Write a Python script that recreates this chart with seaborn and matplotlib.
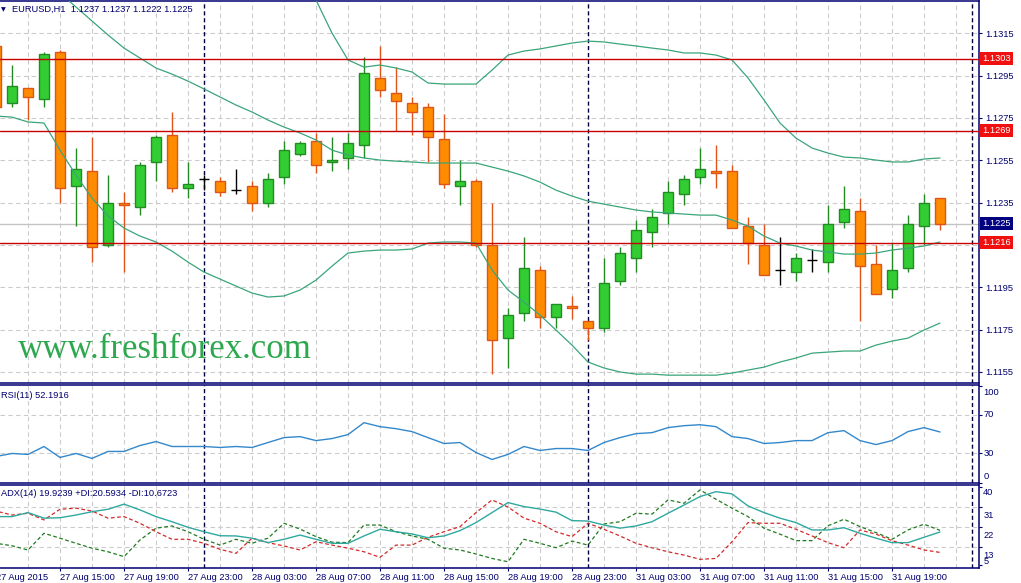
import numpy as np
import matplotlib
matplotlib.use("Agg")
import matplotlib.pyplot as plt
import matplotlib.transforms as mtransforms
import seaborn as sns

sns.set_theme(style="white")
plt.rcParams['font.family'] = ['Liberation Sans', 'DejaVu Sans']
plt.rcParams['axes.unicode_minus'] = False

# ---------- data (EURUSD H1, 27 Aug 11:00 .. 31 Aug 22:00) ----------
open_ = [1.1309, 1.1282, 1.1289, 1.1284, 1.1306, 1.1243, 1.1250, 1.1215, 1.1235, 1.1233,
         1.1254, 1.1267, 1.1242, 1.1246, 1.1245, 1.1241, 1.1243, 1.1235, 1.1247, 1.1258,
         1.1264, 1.1254, 1.1256, 1.1262, 1.1294, 1.1287, 1.1282, 1.1280, 1.1265, 1.1243,
         1.1245, 1.1215, 1.1171, 1.1183, 1.1203, 1.1181, 1.1186, 1.1179, 1.1176, 1.1198,
         1.1209, 1.1221, 1.1230, 1.1239, 1.1247, 1.1250, 1.1250, 1.1224, 1.1215, 1.1203,
         1.1202, 1.1208, 1.1207, 1.1226, 1.1231, 1.1206, 1.1194, 1.1204, 1.1224, 1.1237]
high = [1.1312, 1.1300, 1.1289, 1.1306, 1.1307, 1.1261, 1.1266, 1.1248, 1.1240, 1.1254,
        1.1267, 1.1278, 1.1254, 1.1248, 1.1247, 1.1251, 1.1245, 1.1249, 1.1264, 1.1264,
        1.1268, 1.1266, 1.1268, 1.1304, 1.1309, 1.1299, 1.1285, 1.1282, 1.1277, 1.1255,
        1.1246, 1.1235, 1.1185, 1.1219, 1.1205, 1.1187, 1.1191, 1.1179, 1.1209, 1.1214,
        1.1227, 1.1232, 1.1245, 1.1248, 1.1261, 1.1262, 1.1253, 1.1228, 1.1225, 1.1219,
        1.1211, 1.1213, 1.1234, 1.1243, 1.1237, 1.1215, 1.1216, 1.1229, 1.1239, 1.1237]
low = [1.1279, 1.1280, 1.1274, 1.1280, 1.1235, 1.1224, 1.1207, 1.1214, 1.1202, 1.1229,
       1.1245, 1.1240, 1.1237, 1.1241, 1.1238, 1.1239, 1.1231, 1.1233, 1.1244, 1.1257,
       1.1249, 1.1250, 1.1251, 1.1256, 1.1285, 1.1269, 1.1267, 1.1254, 1.1242, 1.1234,
       1.1214, 1.1154, 1.1157, 1.1179, 1.1176, 1.1176, 1.1180, 1.1170, 1.1174, 1.1196,
       1.1202, 1.1214, 1.1225, 1.1234, 1.1244, 1.1242, 1.1223, 1.1206, 1.1201, 1.1196,
       1.1198, 1.1202, 1.1202, 1.1223, 1.1179, 1.1192, 1.1190, 1.1202, 1.1215, 1.1222]
close = [1.1280, 1.1290, 1.1285, 1.1305, 1.1242, 1.1251, 1.1214, 1.1235, 1.1234, 1.1253,
         1.1266, 1.1242, 1.1244, 1.1246, 1.1240, 1.1241, 1.1235, 1.1246, 1.1260, 1.1263,
         1.1253, 1.1255, 1.1263, 1.1296, 1.1288, 1.1283, 1.1278, 1.1266, 1.1244, 1.1245,
         1.1215, 1.1170, 1.1182, 1.1204, 1.1181, 1.1187, 1.1185, 1.1176, 1.1197, 1.1211,
         1.1222, 1.1228, 1.1240, 1.1246, 1.1251, 1.1249, 1.1223, 1.1216, 1.1201, 1.1203,
         1.1209, 1.1208, 1.1225, 1.1232, 1.1205, 1.1192, 1.1203, 1.1225, 1.1235, 1.1225]

bb_upper = [1.14460, 1.14332, 1.14223, 1.14086, 1.14082, 1.14068, 1.14044, 1.13997, 1.13931, 1.13874,
            1.13808, 1.13794, 1.13779, 1.13751, 1.13709, 1.13666, 1.13633, 1.13576, 1.13505, 1.13420,
            1.13307, 1.13151, 1.13024, 1.12990, 1.13000, 1.12986, 1.12967, 1.12915, 1.12910, 1.12910,
            1.12910, 1.12976, 1.13047, 1.13066, 1.13076, 1.13090, 1.13104, 1.13113, 1.13109, 1.13099,
            1.13090, 1.13080, 1.13071, 1.13057, 1.13057, 1.13047, 1.13024, 1.12939, 1.12835, 1.12726,
            1.12655, 1.12608, 1.12584, 1.12565, 1.12561, 1.12551, 1.12542, 1.12542, 1.12556, 1.12561]
bb_middle = [1.13609, 1.13543, 1.13477, 1.13406, 1.13340, 1.13274, 1.13208, 1.13142, 1.13080, 1.13033,
             1.12986, 1.12957, 1.12924, 1.12887, 1.12849, 1.12811, 1.12778, 1.12740, 1.12707, 1.12679,
             1.12646, 1.12598, 1.12575, 1.12561, 1.12551, 1.12546, 1.12542, 1.12537, 1.12537, 1.12537,
             1.12537, 1.12518, 1.12499, 1.12476, 1.12447, 1.12409, 1.12381, 1.12357, 1.12343, 1.12329,
             1.12315, 1.12306, 1.12301, 1.12296, 1.12291, 1.12291, 1.12268, 1.12239, 1.12192, 1.12159,
             1.12145, 1.12126, 1.12117, 1.12107, 1.12107, 1.12112, 1.12126, 1.12135, 1.12145, 1.12164]
bb_lower = [1.12759, 1.12754, 1.12731, 1.12726, 1.12598, 1.12480, 1.12372, 1.12287, 1.12230, 1.12192,
            1.12164, 1.12121, 1.12069, 1.12022, 1.11989, 1.11956, 1.11923, 1.11904, 1.11909, 1.11937,
            1.11984, 1.12050, 1.12112, 1.12121, 1.12126, 1.12126, 1.12131, 1.12159, 1.12164, 1.12164,
            1.12159, 1.12032, 1.11937, 1.11880, 1.11819, 1.11748, 1.11677, 1.11597, 1.11569, 1.11550,
            1.11540, 1.11540, 1.11535, 1.11535, 1.11535, 1.11535, 1.11545, 1.11559, 1.11573, 1.11597,
            1.11616, 1.11639, 1.11644, 1.11649, 1.11649, 1.11677, 1.11696, 1.11710, 1.11748, 1.11781]

rsi = [26.9, 30.0, 29.0, 37.2, 25.9, 30.0, 24.9, 32.1, 32.1, 38.2,
       42.3, 37.2, 37.2, 37.2, 36.2, 37.2, 36.2, 41.3, 46.4, 47.4,
       43.3, 45.4, 49.5, 61.8, 57.7, 55.6, 52.6, 46.4, 40.3, 41.3,
       31.0, 23.8, 29.0, 37.2, 33.1, 35.1, 35.1, 33.1, 41.3, 46.4,
       50.5, 51.5, 56.7, 58.7, 59.7, 57.7, 47.4, 45.4, 40.3, 41.3,
       43.3, 43.3, 51.5, 53.6, 43.3, 39.2, 43.3, 52.6, 56.7, 52.2]

adx = [26.8, 26.8, 28.6, 26.1, 26.3, 27.5, 29.0, 30.1, 32.4, 29.8,
       26.8, 24.5, 22.0, 20.0, 18.2, 18.1, 17.1, 15.1, 16.6, 18.5,
       16.6, 14.8, 14.8, 18.1, 21.1, 20.0, 19.0, 17.3, 18.1, 20.5,
       24.1, 28.6, 33.1, 31.3, 30.2, 28.8, 25.0, 24.8, 23.0, 21.6,
       22.6, 24.5, 28.3, 32.0, 35.8, 38.0, 37.0, 31.6, 28.6, 26.1,
       24.1, 20.8, 20.8, 21.8, 19.3, 17.1, 15.1, 15.1, 17.5, 19.9]
plus_di = [14.8, 13.7, 11.8, 19.3, 17.1, 14.8, 12.6, 11.0, 8.8, 16.3,
           21.6, 22.6, 20.0, 16.6, 14.0, 16.6, 14.8, 17.1, 23.8, 21.2,
           17.8, 15.3, 15.1, 23.0, 23.0, 20.0, 18.1, 16.6, 12.6, 11.8,
           10.0, 8.0, 6.5, 16.6, 14.8, 12.8, 15.8, 14.0, 23.5, 24.5,
           28.3, 27.9, 34.3, 32.8, 38.8, 34.6, 30.6, 26.8, 21.6, 18.9,
           16.0, 16.0, 22.7, 25.6, 22.3, 19.6, 16.6, 20.8, 23.4, 20.6]
minus_di = [29.3, 27.5, 28.3, 25.3, 30.1, 30.6, 29.3, 26.1, 26.8, 23.8,
            20.0, 16.6, 16.6, 14.8, 12.1, 10.3, 17.1, 15.1, 13.6, 11.8,
            15.5, 14.0, 12.6, 11.0, 8.5, 14.0, 14.0, 17.5, 20.0, 22.3,
            28.6, 34.3, 31.1, 26.1, 23.8, 20.0, 17.8, 23.8, 21.1, 18.1,
            14.8, 12.8, 11.0, 9.5, 7.6, 8.0, 15.5, 24.1, 23.8, 23.8,
            21.1, 18.1, 15.1, 12.8, 20.8, 18.9, 16.0, 14.0, 11.8, 10.7]

time_labels = ['27 Aug 15:00', '27 Aug 19:00', '27 Aug 23:00', '28 Aug 03:00', '28 Aug 07:00',
               '28 Aug 11:00', '28 Aug 15:00', '28 Aug 19:00', '28 Aug 23:00', '31 Aug 03:00',
               '31 Aug 07:00', '31 Aug 11:00', '31 Aug 15:00', '31 Aug 19:00']
levels = [1.1303, 1.1269, 1.1216]
bid = 1.1225
price_ticks = [1.1155, 1.1175, 1.1195, 1.1235, 1.1255, 1.1275, 1.1295, 1.1315]
grid_prices = [1.1155, 1.1175, 1.1195, 1.1215, 1.1235, 1.1255, 1.1275, 1.1295, 1.1315]
day_breaks = [13, 37, 61]

# ---------- colours ----------
NAVY = '#000070'
GRID = '#cbcbcb'
BULL_FILL, BULL_EDGE = '#32cd32', '#238b23'
BEAR_FILL, BEAR_EDGE = '#ff8c00', '#e0541a'
BB_C = '#3aa57a'
RSI_C = '#3388cc'
ADX_C = '#2fa8a0'
PDI_C = '#1f7a1f'
MDI_C = '#d42a2a'
LVL_C = '#c80000'
FS = 6.7

o, h, l, c = map(np.array, (open_, high, low, close))
idx = np.arange(len(o))

fig = plt.figure(figsize=(10.21, 5.83), dpi=100)
fig.patch.set_facecolor('white')
W = 1021.0
H = 583.0
def box(top_px, bot_px):
    return [0, 1 - bot_px / H, 979 / W, (bot_px - top_px) / H]

ax = fig.add_axes(box(1.3, 383))
ax_rsi = fig.add_axes(box(385, 482.5), sharex=ax)
ax_adx = fig.add_axes(box(485, 568), sharex=ax)
axes = [ax, ax_rsi, ax_adx]

for a in axes:
    a.set_facecolor('white')
    for s in a.spines.values():
        s.set_color(NAVY)
        s.set_linewidth(1.1)
    a.spines['left'].set_visible(False)
    # vertical grid every 2 bars
    for i in range(2, 61, 2):
        a.axvline(i, color=GRID, lw=0.8, ls=(0, (4, 3)), zorder=1)
    for i in day_breaks:
        a.axvline(i, color='#000040', lw=1, ls=(0, (3, 2)), zorder=2)
    a.yaxis.tick_right()
    a.set_xlabel('')
    a.set_ylabel('')

ax.set_xlim(0.25, 61.4375)

# ---------- main panel ----------
for p in grid_prices:
    ax.axhline(p, color=GRID, lw=0.8, ls=(0, (4, 3)), zorder=1)
ax.axhline(bid, color='#c4c4c4', lw=1, zorder=1.5)

bull = c > o
doji = c == o
fill = np.where(bull, BULL_FILL, BEAR_FILL)
edge = np.where(bull, BULL_EDGE, BEAR_EDGE)
wick = np.where(doji, 'black', edge)
ax.vlines(idx, l, h, colors=wick, lw=1, zorder=3)
m = ~doji
ax.bar(idx[m], np.abs(c - o)[m], bottom=np.minimum(o, c)[m], width=0.62,
       color=fill[m], edgecolor=edge[m], linewidth=1, zorder=4)
ax.hlines(c[doji], idx[doji] - 0.31, idx[doji] + 0.31, colors='black', lw=1, zorder=4)

for band in (bb_upper, bb_middle, bb_lower):
    sns.lineplot(x=idx, y=band, ax=ax, color=BB_C, lw=0.9, zorder=5)

for lv in levels:
    ax.axhline(lv, color=LVL_C, lw=1, zorder=6)

ax.set_ylim(1.11498, 1.13301)
ax.set_yticks(price_ticks)
ax.set_yticklabels(['%.4f' % p for p in price_ticks])
ax.tick_params(axis='y', direction='out', length=2.2, width=0.8, colors=NAVY,
               labelsize=FS, pad=2.2, right=True, left=False)
ax.set_xlabel('')
ax.set_ylabel('')

trans = mtransforms.blended_transform_factory(ax.transAxes, ax.transData)
for val, col in [(1.1303, '#f01010'), (1.1269, '#f01010'), (1.1216, '#f01010'), (bid, '#000080')]:
    ax.text(1.0035, val, '%.4f' % val, transform=trans, color='white', fontsize=FS,
            ha='left', va='center', clip_on=False, zorder=10,
            bbox=dict(boxstyle='square,pad=0.22', fc=col, ec='none'))

# ---------- RSI ----------
for g in (70, 30):
    ax_rsi.axhline(g, color=GRID, lw=0.8, ls=(0, (4, 3)), zorder=1)
sns.lineplot(x=idx, y=rsi, ax=ax_rsi, color=RSI_C, lw=1, zorder=5)
ax_rsi.set_ylim(0.75, 100.75)
ax_rsi.set_yticks([100, 70, 30, 0])
ax_rsi.set_yticklabels([])
ax_rsi.tick_params(axis='y', direction='out', length=2.2, width=0.8, colors=NAVY, right=True, left=False)
tr_rsi = mtransforms.blended_transform_factory(ax_rsi.transAxes, ax_rsi.transData)
for val, dy in [(100, -7), (70, 0), (30, 0), (0, 6.3)]:
    ax_rsi.annotate(str(val), xy=(1, val), xycoords=tr_rsi, xytext=(3, dy * 0.72),
                    textcoords='offset points', fontsize=FS, color=NAVY,
                    ha='left', va='center', annotation_clip=False)
ax_rsi.set_xlabel('')
ax_rsi.set_ylabel('')

# ---------- ADX ----------
for g in (31, 22, 13):
    ax_adx.axhline(g, color=GRID, lw=0.8, ls=(0, (4, 3)), zorder=1)
sns.lineplot(x=idx, y=plus_di, ax=ax_adx, color=PDI_C, lw=0.9, ls=(0, (3, 2)), zorder=4)
sns.lineplot(x=idx, y=minus_di, ax=ax_adx, color=MDI_C, lw=0.9, ls=(0, (3, 2)), zorder=4)
sns.lineplot(x=idx, y=adx, ax=ax_adx, color=ADX_C, lw=1, zorder=5)
ax_adx.set_ylim(3.7, 41.0)
ax_adx.set_yticks([40, 31, 22, 13, 5])
ax_adx.set_yticklabels([])
ax_adx.tick_params(axis='y', direction='out', length=2.2, width=0.8, colors=NAVY, right=True, left=False)
tr_adx = mtransforms.blended_transform_factory(ax_adx.transAxes, ax_adx.transData)
for val, dy in [(40, -5), (31, -8.4), (22, -8.4), (13, -8.4), (5, 3.4)]:
    ax_adx.annotate(str(val), xy=(1, val), xycoords=tr_adx, xytext=(3, dy * 0.72),
                    textcoords='offset points', fontsize=FS, color=NAVY,
                    ha='left', va='center', annotation_clip=False)
ax_adx.set_xlabel('')
ax_adx.set_ylabel('')

# ---------- time axis ----------
ax_adx.set_xticks(list(range(4, 57, 4)))
ax_adx.set_xticklabels(time_labels)
for lbl in ax_adx.get_xticklabels():
    lbl.set_ha('left')
ax_adx.tick_params(axis='x', direction='out', length=2.2, width=0.8, colors=NAVY,
                   labelsize=FS, pad=1.2, bottom=True)
for a in (ax, ax_rsi):
    a.tick_params(axis='x', bottom=False, labelbottom=False)
ax.set_xlim(0.25, 61.4375)

# ---------- texts ----------
fig.text(-4 / W, 1 - 577.5 / H, '27 Aug 2015', fontsize=FS, color=NAVY, ha='left', va='center')
fig.text(0.5 / W, 1 - 9.8 / H, '\u25bc', fontsize=4.5, color=NAVY, ha='left', va='center',
         family=['DejaVu Sans'])
fig.text(11.7 / W, 1 - 9.5 / H, 'EURUSD,H1  1.1237 1.1237 1.1222 1.1225', fontsize=FS,
         color=NAVY, ha='left', va='center')
fig.text(0.5 / W, 1 - 395 / H, 'RSI(11) 52.1916', fontsize=FS, color=NAVY, ha='left', va='center')
fig.text(1 / W, 1 - 494 / H, 'ADX(14) 19.9239 +DI:20.5934 -DI:10.6723', fontsize=FS,
         color=NAVY, ha='left', va='center')
fig.text(18 / W, 1 - 358 / H, 'www.freshforex.com', fontsize=25, color='#2ea84e',
         family=['Liberation Serif', 'DejaVu Serif'], ha='left', va='baseline')

fig.savefig('out.png', dpi=100, facecolor='white')
